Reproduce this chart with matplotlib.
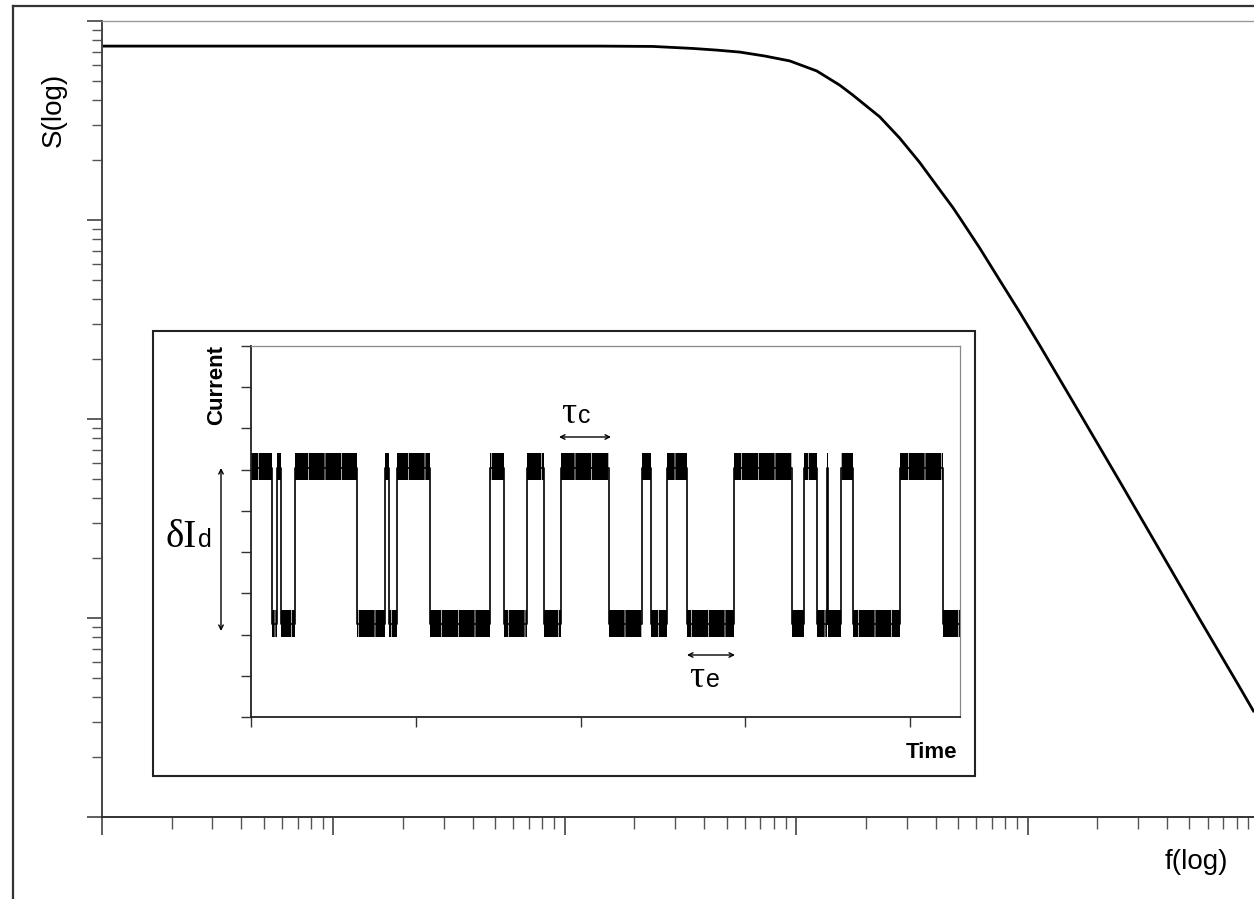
import numpy as np
import matplotlib
matplotlib.use("Agg")
import matplotlib.pyplot as plt
from matplotlib.lines import Line2D
from matplotlib.patches import Rectangle, FancyArrowPatch

W, H = 1254, 899

# Lorentzian spectrum
freq = [1.0, 141.6, 240, 357, 454, 570, 731, 938, 1227, 1542, 1754, 2296,
        2800, 3412, 4169, 4742, 5080, 6209, 7568, 9230, 11270, 16790, 24950,
        37150, 55340, 82410, 94600]
spec = [0.748, 0.748, 0.745, 0.728, 0.714, 0.698, 0.667, 0.630, 0.561, 0.476,
        0.425, 0.330, 0.258, 0.195, 0.142, 0.116, 0.103, 0.0723, 0.0499,
        0.0345, 0.0235, 0.0107, 0.00488, 0.00220, 0.000989, 0.000450, 0.000341]

# Random telegraph signal in the inset: switching times and states (1 = high)
t_start = [0.000, 0.126, 0.158, 0.180, 0.267, 0.642, 0.813, 0.838, 0.884,
           1.087, 1.451, 1.536, 1.677, 1.778, 1.880, 2.170, 2.370, 2.425,
           2.522, 2.648, 2.932, 3.285, 3.357, 3.436, 3.493, 3.502, 3.579,
           3.651, 3.939, 4.202]
t_end = t_start[1:] + [4.303]
state = [1, 0] * 15
HIGH, LOW = 6.05, 2.25
HIGH_BAND = (5.75, 6.40)
LOW_BAND = (1.95, 2.60)

plt.rcParams['font.family'] = ['Liberation Sans', 'DejaVu Sans']
plt.rcParams['hatch.linewidth'] = 0.5


def px(x, y):
    return x / W, 1 - y / H


fig = plt.figure(figsize=(W / 100, H / 100), dpi=100)

# outer frame (left and top edges only visible)
fig.add_artist(Line2D([13 / W, 13 / W], [0, 1 - 6 / H], transform=fig.transFigure,
                      color='#333333', lw=1.6))
fig.add_artist(Line2D([13 / W, 1], [1 - 6 / H, 1 - 6 / H], transform=fig.transFigure,
                      color='#333333', lw=1.6))

# main axes
l, t = px(102, 21)
r, b = px(1259, 817)
ax = fig.add_axes([l, b, r - l, t - b])
ax.plot(freq, spec, color='black', lw=2.0)
ax.set_xscale('log')
ax.set_yscale('log')
ax.set_xlim(1, 1e5)
ax.set_ylim(1e-4, 1)
ax.xaxis.set_major_locator(matplotlib.ticker.LogLocator(base=10, numticks=10))
ax.yaxis.set_major_locator(matplotlib.ticker.LogLocator(base=10, numticks=10))
ax.xaxis.set_minor_locator(matplotlib.ticker.LogLocator(base=10, subs=np.arange(2, 10), numticks=20))
ax.yaxis.set_minor_locator(matplotlib.ticker.LogLocator(base=10, subs=np.arange(2, 10), numticks=20))
ax.tick_params(axis='x', which='major', direction='out', length=13, width=1.1, color='#333333',
               labelbottom=False)
ax.tick_params(axis='x', which='minor', direction='out', length=8.5, width=1.0, color='#555555')
ax.tick_params(axis='y', which='major', direction='out', length=10.8, width=1.1, color='#333333',
               labelleft=False)
ax.tick_params(axis='y', which='minor', direction='out', length=7.5, width=1.0, color='#555555')
ax.spines['left'].set_color('#444444')
ax.spines['left'].set_linewidth(1.4)
ax.spines['bottom'].set_color('#333333')
ax.spines['bottom'].set_linewidth(1.4)
ax.spines['top'].set_color('#999999')
ax.spines['top'].set_linewidth(1.0)
ax.spines['right'].set_visible(False)

fig.text(*px(54, 110), 'S(log)', rotation=90, fontsize=20, ha='center', va='center')
fig.text(*px(1196, 862), 'f(log)', fontsize=20, ha='center', va='center')

# inset frame
bl = px(153, 776)
tr = px(975, 331)
fig.add_artist(Rectangle(bl, tr[0] - bl[0], tr[1] - bl[1], transform=fig.transFigure,
                         facecolor='white', edgecolor='#222222', lw=1.5, zorder=3))

# inset axes
l2, t2 = px(251, 346)
r2, b2 = px(960, 717)
ax2 = fig.add_axes([l2, b2, r2 - l2, t2 - b2], zorder=4)
for t0, t1, s in zip(t_start, t_end, state):
    lo, hi = HIGH_BAND if s else LOW_BAND
    ax2.fill_between([t0, t1], [lo, lo], [hi, hi], facecolor='black', edgecolor='white',
                     hatch='|', lw=0)
tt, yy = [], []
for t0, t1, s in zip(t_start, t_end, state):
    lev = HIGH if s else LOW
    tt += [t0, t1]
    yy += [lev, lev]
ax2.plot(tt, yy, color='black', lw=1.2)
ax2.set_xlim(0, 4.303)
ax2.set_ylim(0, 9)
ax2.set_xticks(range(5))
ax2.set_yticks(range(10))
ax2.tick_params(direction='out', length=7, width=1.0, color='#333333',
                labelbottom=False, labelleft=False)
ax2.spines['left'].set_color('#222222')
ax2.spines['bottom'].set_color('#222222')
ax2.spines['left'].set_linewidth(1.3)
ax2.spines['bottom'].set_linewidth(1.3)
for sp in ('top', 'right'):
    ax2.spines[sp].set_color('#888888')
    ax2.spines[sp].set_linewidth(0.9)

fig.text(*px(217, 385), 'Current', rotation=90, fontsize=16, fontweight='bold',
         ha='center', va='center', zorder=5)
fig.text(*px(957, 752), 'Time', fontsize=16, fontweight='bold',
         ha='right', va='center', zorder=5)

serif = ['Liberation Serif', 'DejaVu Serif']
fig.text(*px(166, 547), 'δI', fontsize=28, family=serif, ha='left', va='baseline', zorder=5)
fig.text(*px(198, 547), 'd', fontsize=18, ha='left', va='baseline', zorder=5)
fig.text(*px(561, 423), 'τ', fontsize=27, family=serif, ha='left', va='baseline', zorder=5)
fig.text(*px(578, 423), 'c', fontsize=18, ha='left', va='baseline', zorder=5)
fig.text(*px(689, 687), 'τ', fontsize=27, family=serif, ha='left', va='baseline', zorder=5)
fig.text(*px(706, 687), 'e', fontsize=18, ha='left', va='baseline', zorder=5)

arrow = dict(arrowstyle='<->', lw=1.0, color='black', shrinkA=0, shrinkB=0,
             mutation_scale=8)
for (x0, y0), (x1, y1) in [((559, 437), (611, 437)), ((687, 655), (735, 655)),
                           ((221, 468), (221, 631))]:
    fig.add_artist(FancyArrowPatch(px(x0, y0), px(x1, y1), transform=fig.transFigure,
                                   zorder=6, **arrow))

fig.savefig('out.png', dpi=100)
